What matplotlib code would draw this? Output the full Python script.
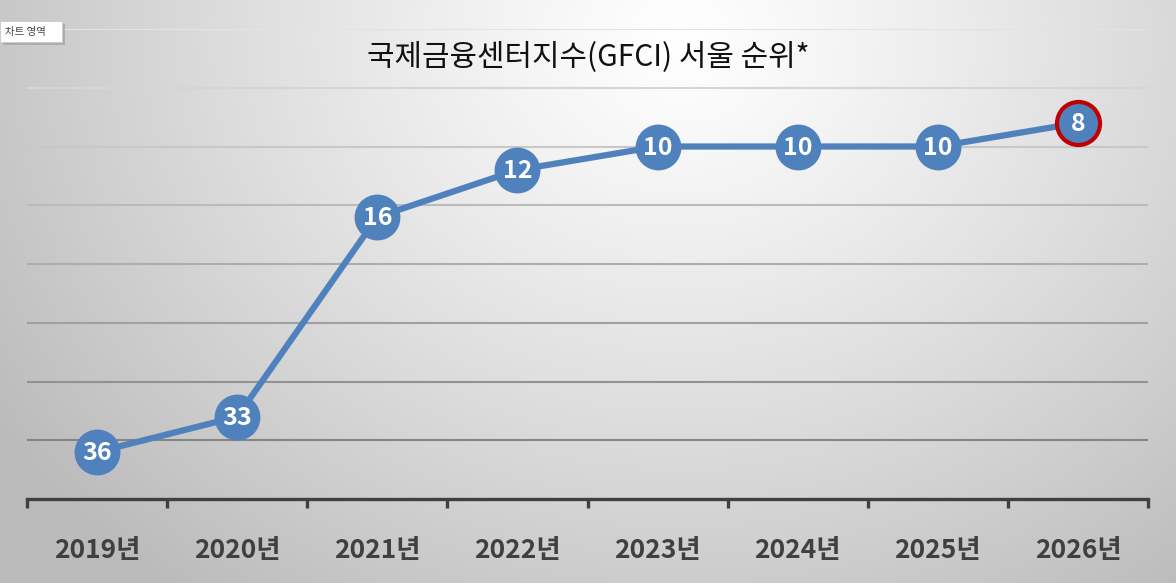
import numpy as np
import matplotlib
matplotlib.use("Agg")
import matplotlib.pyplot as plt
from matplotlib.patches import Rectangle

plt.rcParams['font.family'] = ['Noto Sans CJK KR', 'DejaVu Sans']

# ---- data ----
years = ['2019년', '2020년', '2021년', '2022년', '2023년', '2024년', '2025년', '2026년']
ranks = [36, 33, 16, 12, 10, 10, 10, 8]
title = '국제금융센터지수(GFCI) 서울 순위*'
grid_levels = [0, 5, 10, 15, 20, 25, 30, 35]

W, H, DPI = 1176, 583, 100
fig = plt.figure(figsize=(W / DPI, H / DPI), dpi=DPI)

# background radial gradient
bg = fig.add_axes([0, 0, 1, 1], zorder=0)
yy, xx = np.mgrid[0:H, 0:W]
d = np.sqrt(((xx - 680) / 820.0) ** 2 + ((yy - 40) / 700.0) ** 2)
d = np.clip(d, 0, 1)
v = (255 - 68 * d ** 1.15) / 255.0
img = np.dstack([v, v, v])
bg.imshow(img, aspect='auto', extent=[0, W, H, 0], interpolation='bilinear')
bg.set_xlim(0, W)
bg.set_ylim(H, 0)
bg.axis('off')

# main axes
left, right = 27 / W, 1148 / W
bottom, top = 1 - 499 / H, 1 - 29 / H
ax = fig.add_axes([left, bottom, right - left, top - bottom], zorder=1)
ax.set_facecolor('none')
x = np.arange(len(years))
ax.set_xlim(-0.5, len(years) - 0.5)
ax.set_ylim(40, 0)

# gridlines, progressively darker downward
gcols = np.linspace(0.89, 0.52, len(grid_levels))
for g, c in zip(grid_levels, gcols):
    ax.axhline(g, color=(c, c, c), lw=1.5, zorder=1)

for s in ['top', 'left', 'right']:
    ax.spines[s].set_visible(False)
ax.spines['bottom'].set_color('#404040')
ax.spines['bottom'].set_linewidth(2.4)
ax.set_yticks([])

ax.set_xticks(x)
ax.set_xticklabels(years, fontsize=19, fontweight='bold', color='#404040')
ax.tick_params(axis='x', which='major', length=0, pad=27)
ax.set_xticks(np.arange(-0.5, len(years)), minor=True)
ax.tick_params(axis='x', which='minor', length=6.5, width=2.4, color='#404040', direction='out')

blue = '#4F81BD'
ax.plot(x, ranks, color=blue, lw=4.5, zorder=3, solid_capstyle='round')
ax.plot(x[:-1], ranks[:-1], 'o', ms=32, color=blue, mec=blue, zorder=4)
ax.plot(x[-1:], ranks[-1:], 'o', ms=31, color=blue, mec='#C00000', mew=3, zorder=4)

for xi, r in zip(x, ranks):
    ax.text(xi, r + 0.1, str(r), ha='center', va='center', color='white',
            fontsize=18, fontweight='bold', zorder=5)

# title
fig.text(588 / W, 1 - 57 / H, title, ha='center', va='center', fontsize=21.5,
         fontweight='medium', color='#111111')

# "chart area" tooltip with a soft shadow
fig.patches.append(Rectangle((3 / W, 1 - 45 / H), 62 / W, 21 / H, transform=fig.transFigure,
                             fc='#9a9a9a', ec='none', alpha=0.6, zorder=5))
fig.patches.append(Rectangle((0, 1 - 42 / H), 62 / W, 21 / H, transform=fig.transFigure,
                             fc='white', ec='#c8c8c8', lw=0.6, zorder=6))
fig.text(5 / W, 1 - 31.5 / H, '차트 영역', ha='left', va='center', fontsize=7.5,
         color='#444444', zorder=7)

fig.savefig('out.png', dpi=DPI)
